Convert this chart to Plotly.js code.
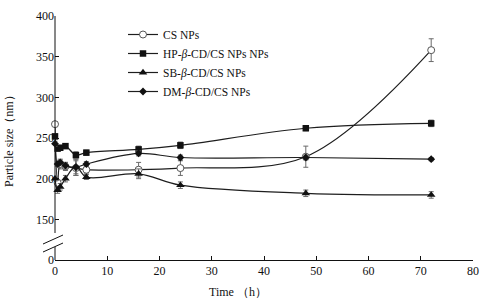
<!DOCTYPE html>
<html>
<head>
<meta charset="utf-8">
<script src="https://cdn.plot.ly/plotly-3.0.1.min.js"></script>
<style>html,body{margin:0;padding:0;background:#fff}#chart{width:490px;height:307px}</style>
</head>
<body>
<div id="chart"></div>
<script>
// Time points (h)
const times = [0, 0.5, 1, 2, 4, 6, 16, 24, 48, 72];

// Particle size (nm)
const csNPs = [267, 195, 218, 215, 213, 211, 211, 213, 227, 358];
const csErr = [3, 4, 6, 5, 9, 5, 9, 9, 13, 14];

const hpNPs = [252, 237, 238, 240, 229, 232, 236, 241, 262, 268];
const hpErr = [3, 3, 3, 3, 4, 3, 4, 4, 3, 4];

const sbNPs = [200, 186, 190, 200, 215, 202, 206, 192, 182, 180];
const sbErr = [3, 4, 4, 4, 9, 3, 6, 4, 4, 4];

const dmNPs = [243, 218, 220, 216, 214, 218, 231, 226, 226, 224];
const dmErr = [3, 3, 3, 4, 10, 3, 3, 3, 3, 2];

const seriesNames = ['CS NPs', 'HP-<i>β</i>-CD/CS NPs NPs', 'SB-<i>β</i>-CD/CS NPs', 'DM-<i>β</i>-CD/CS NPs'];

// y tick positions (axis is broken: bottom value labelled 0)
const yTickVals = [100, 150, 200, 250, 300, 350, 400];
const yTickText = ['0', '150', '200', '250', '300', '350', '400'];
const xTickVals = [0, 10, 20, 30, 40, 50, 60, 70, 80];

const lineColor = '#1e1e1e';
const errStyle = {type: 'data', visible: true, color: '#6a6a6a', thickness: 1, width: 2.5};

function mk(name, y, err, marker) {
  return {
    x: times, y: y, name: name, type: 'scatter', mode: 'lines+markers',
    line: {color: lineColor, width: 1.2, shape: 'spline', smoothing: 1},
    marker: marker,
    error_y: Object.assign({array: err}, errStyle),
    cliponaxis: false
  };
}

const traces = [
  mk(seriesNames[0], csNPs, csErr, {symbol: 'circle', size: 7, color: '#ffffff', line: {color: '#555555', width: 1}}),
  mk(seriesNames[1], hpNPs, hpErr, {symbol: 'square', size: 6.5, color: '#111111'}),
  mk(seriesNames[2], sbNPs, sbErr, {symbol: 'triangle-up', size: 7.5, color: '#111111'}),
  mk(seriesNames[3], dmNPs, dmErr, {symbol: 'diamond', size: 6, color: '#111111'})
];

// pixel helpers for the axis break (plot area: y 16..260, x 55..473)
const H = 244, W = 418;
const py = p => (260 - p) / H;
const px = p => (p - 55) / W;

const serif = 'Liberation Serif, Times New Roman, serif';

const layout = {
  width: 490, height: 307,
  margin: {l: 55, r: 17, t: 16, b: 47},
  paper_bgcolor: '#ffffff', plot_bgcolor: '#ffffff',
  showlegend: true,
  legend: {
    x: px(123), y: py(20), xanchor: 'left', yanchor: 'top',
    bgcolor: 'rgba(0,0,0,0)', borderwidth: 0,
    font: {family: serif, size: 11.5, color: '#111'},
    itemwidth: 30, tracegroupgap: 0
  },
  xaxis: {
    range: [0, 80], tickvals: xTickVals, ticks: 'inside', ticklen: 4, tickcolor: '#111',
    showline: true, linecolor: '#111', linewidth: 1, showgrid: false, zeroline: false,
    tickfont: {family: serif, size: 12, color: '#111'}, fixedrange: true
  },
  yaxis: {
    range: [100, 400], tickvals: yTickVals, ticktext: yTickText, ticks: 'inside', ticklen: 4, tickcolor: '#111',
    showline: false, showgrid: false, zeroline: false,
    tickfont: {family: serif, size: 12, color: '#111'}, fixedrange: true
  },
  shapes: [
    {type: 'line', xref: 'paper', yref: 'paper', x0: 0, x1: 0, y0: 0, y1: py(247), line: {color: '#111', width: 1}},
    {type: 'line', xref: 'paper', yref: 'paper', x0: 0, x1: 0, y0: py(233), y1: 1, line: {color: '#111', width: 1}},
    {type: 'line', xref: 'paper', yref: 'paper', x0: px(43), x1: px(63), y0: py(244), y1: py(235), line: {color: '#111', width: 1}},
    {type: 'line', xref: 'paper', yref: 'paper', x0: px(43), x1: px(63), y0: py(252), y1: py(243), line: {color: '#111', width: 1}}
  ],
  annotations: [
    {text: 'Particle size（nm）', xref: 'paper', yref: 'paper', x: px(9), y: py(138), textangle: -90,
     showarrow: false, xanchor: 'center', yanchor: 'middle', font: {family: serif, size: 12, color: '#111'}},
    {text: 'Time （h）', xref: 'paper', yref: 'paper', x: px(238), y: py(292),
     showarrow: false, xanchor: 'center', yanchor: 'middle', font: {family: serif, size: 12, color: '#111'}}
  ]
};

Plotly.newPlot('chart', traces, layout, {displayModeBar: false, staticPlot: true});
</script>
</body>
</html>
